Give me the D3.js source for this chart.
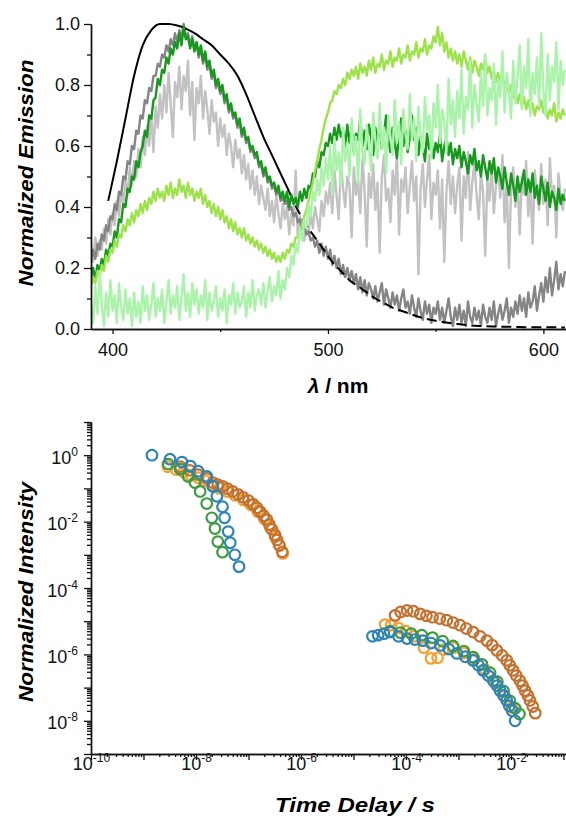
<!DOCTYPE html>
<html>
<head>
<meta charset="utf-8">
<script src="https://cdn.jsdelivr.net/npm/d3@7"></script>
<style>
  body { margin: 0; background: #fff; }
  svg { display: block; font-family: "Liberation Sans", Arial, sans-serif; }
</style>
</head>
<body>
<svg id="chart"></svg>
<script>
const totalWidth = 566;
const totalHeight = 818;

// ---------- top panel data: normalized emission, read every 1 nm (390..610)
const wavelength = d3.range(390, 611, 1);
const lightGray = [
  .27,.22,.30,.24,.29,.26,.33,.28,.36,.31, .38,.34,.42,.37,.45,.41,.49,.44,.53,.47,
  .55,.50,.59,.53,.63,.57,.66,.60,.70,.58, .73,.66,.77,.69,.80,.71,.84,.74,.63,.81,
  .76,.86,.72,.83,.78,.88,.70,.81,.62,.79, .74,.83,.69,.78,.72,.64,.75,.68,.71,.60,
  .69,.63,.67,.57,.64,.60,.53,.62,.56,.59, .51,.57,.49,.54,.46,.52,.44,.50,.41,.47,
  .43,.39,.46,.37,.42,.35,.44,.38,.33,.41, .36,.40,.31,.38,.34,.52,.30,.37,.33,.29,
  .35,.31,.38,.33,.40,.36,.32,.42,.37,.45, .41,.48,.38,.52,.44,.36,.55,.46,.40,.50,
  .47,.30,.53,.44,.49,.38,.56,.45,.27,.51, .43,.54,.39,.48,.25,.50,.57,.42,.46,.35,
  .52,.44,.58,.31,.49,.45,.53,.38,.47,.55, .42,.50,.18,.46,.54,.40,.49,.57,.36,.48,
  .44,.52,.33,.49,.22,.45,.55,.41,.50,.38, .47,.53,.29,.50,.43,.58,.39,.48,.55,.44,
  .36,.51,.45,.24,.49,.42,.54,.38,.47,.52, .43,.57,.35,.48,.20,.46,.53,.40,.49,.31,
  .50,.44,.55,.37,.48,.28,.52,.45,.39,.54, .41,.49,.34,.56,.43,.47,.30,.51,.44,.39,
  .46];
const darkGray = [
  .22,.26,.23,.28,.26,.31,.29,.34,.32,.37, .36,.41,.39,.45,.44,.50,.49,.55,.54,.60,
  .59,.65,.64,.70,.69,.75,.74,.79,.78,.83, .83,.87,.86,.90,.89,.93,.91,.95,.93,.97,
  .94,.98,.95,1.0,.96,.97,.93,.96,.92,.94, .89,.92,.87,.90,.85,.87,.82,.84,.79,.81,
  .77,.79,.74,.76,.71,.73,.69,.70,.66,.68, .63,.65,.61,.62,.58,.59,.56,.57,.53,.54,
  .50,.52,.48,.49,.46,.47,.44,.46,.42,.43, .41,.42,.39,.40,.37,.38,.35,.36,.33,.34,
  .31,.32,.29,.30,.27,.29,.25,.28,.24,.27, .23,.26,.21,.24,.20,.23,.18,.21,.17,.20,
  .16,.19,.15,.18,.13,.17,.12,.16,.11,.15, .13,.10,.14,.09,.12,.15,.08,.13,.10,.07,
  .12,.08,.11,.06,.10,.13,.07,.09,.05,.11, .07,.04,.10,.06,.03,.09,.05,.08,.02,.07,
  .05,.09,.03,.07,.02,.06,.10,.04,.01,.07, .03,.08,.02,.06,.01,.09,.04,.02,.07,.03,
  .06,.01,.08,.04,.02,.07,.03,.09,.01,.05, .08,.03,.06,.10,.02,.07,.04,.09,.05,.11,
  .06,.10,.04,.12,.07,.09,.14,.06,.11,.15, .09,.17,.12,.20,.11,.16,.22,.13,.18,.14,
  .19];
const darkGreen = [
  .17,.20,.16,.21,.19,.23,.21,.26,.24,.28, .27,.32,.30,.36,.35,.41,.40,.46,.45,.50,
  .49,.55,.53,.58,.60,.65,.63,.70,.69,.75, .76,.82,.80,.85,.84,.89,.87,.92,.90,.94,
  .92,.97,.93,.99,.95,.96,.92,.95,.91,.94, .90,.93,.88,.91,.86,.88,.83,.85,.80,.82,
  .78,.80,.75,.77,.72,.74,.70,.71,.67,.69, .64,.66,.62,.63,.59,.60,.57,.58,.54,.55,
  .51,.53,.49,.50,.47,.48,.45,.47,.43,.45, .42,.45,.40,.44,.41,.43,.40,.45,.42,.46,
  .43,.47,.46,.51,.50,.55,.53,.58,.57,.61, .60,.64,.61,.66,.62,.67,.63,.65,.60,.67,
  .61,.66,.58,.64,.62,.69,.60,.65,.59,.67, .63,.57,.66,.61,.68,.59,.64,.70,.62,.58,
  .66,.61,.56,.64,.69,.60,.65,.58,.63,.70, .62,.66,.57,.63,.60,.55,.64,.59,.62,.56,
  .61,.58,.64,.55,.60,.63,.57,.61,.54,.59, .56,.60,.53,.58,.55,.51,.57,.54,.59,.52,
  .55,.50,.57,.53,.49,.55,.51,.56,.48,.53, .50,.46,.53,.48,.44,.51,.47,.42,.50,.45,
  .48,.52,.44,.49,.45,.51,.43,.47,.41,.50, .46,.42,.48,.40,.45,.43,.39,.46,.41,.44,
  .42];
const limeGreen = [
  .14,.17,.15,.19,.17,.21,.19,.24,.22,.26, .25,.29,.27,.31,.30,.34,.32,.36,.34,.38,
  .35,.39,.37,.41,.38,.42,.39,.43,.41,.45, .42,.46,.43,.45,.42,.47,.44,.48,.43,.46,
  .44,.49,.45,.47,.43,.48,.44,.46,.42,.45, .43,.46,.41,.44,.40,.42,.38,.41,.37,.40,
  .36,.39,.35,.37,.33,.36,.32,.35,.31,.33, .30,.33,.29,.31,.28,.30,.27,.29,.26,.28,
  .25,.27,.24,.26,.23,.25,.22,.24,.22,.25, .23,.26,.25,.28,.27,.30,.30,.33,.34,.37,
  .39,.42,.45,.48,.52,.55,.59,.62,.66,.69, .71,.74,.75,.78,.77,.80,.79,.82,.80,.84,
  .82,.85,.83,.86,.82,.87,.84,.86,.83,.88, .85,.89,.84,.87,.86,.90,.85,.88,.87,.91,
  .86,.89,.88,.92,.87,.90,.89,.93,.88,.91, .90,.94,.89,.92,.91,.95,.90,.93,.92,.96,
  .94,.99,.93,.97,.91,.94,.89,.92,.88,.91, .87,.90,.86,.91,.88,.85,.89,.84,.88,.86,
  .83,.87,.85,.89,.84,.86,.82,.85,.81,.84, .80,.83,.79,.82,.77,.80,.76,.79,.74,.77,
  .73,.76,.72,.75,.71,.74,.70,.73,.72,.75, .71,.73,.69,.72,.70,.74,.68,.71,.69,.72,
  .70];
const paleGreen = [
  .09,.02,.14,.05,.19,.08,.01,.12,.04,.16, .06,.11,.02,.15,.07,.03,.13,.05,.10,.01,
  .12,.04,.09,.02,.14,.06,.11,.03,.08,.15, .04,.10,.06,.13,.02,.09,.16,.05,.11,.07,
  .14,.03,.10,.18,.06,.12,.04,.15,.08,.13, .05,.11,.07,.16,.03,.12,.06,.09,.14,.04,
  .10,.06,.13,.02,.11,.08,.15,.05,.12,.07, .09,.14,.04,.12,.07,.16,.06,.11,.13,.08,
  .15,.07,.12,.17,.09,.14,.11,.19,.10,.16, .13,.20,.17,.24,.21,.28,.25,.33,.29,.36,
  .33,.41,.37,.45,.42,.49,.44,.53,.47,.56, .49,.60,.44,.63,.52,.58,.47,.66,.55,.61,
  .50,.69,.57,.63,.48,.72,.58,.54,.67,.60, .52,.71,.62,.56,.74,.59,.66,.51,.70,.63,
  .57,.75,.61,.68,.54,.72,.64,.59,.77,.62, .69,.55,.73,.63,.58,.76,.65,.70,.56,.74,
  .66,.80,.61,.72,.68,.58,.82,.67,.75,.63, .78,.69,.85,.64,.76,.72,.88,.66,.80,.74,
  .68,.84,.73,.90,.70,.79,.75,.87,.67,.82, .76,.91,.71,.84,.78,.69,.88,.74,.83,.93,
  .72,.86,.79,.95,.70,.84,.77,.89,.73,.97, .78,.70,.90,.75,.86,.81,.94,.72,.88,.80,
  .85];
// smooth reference band (black)
const blackNm = [398,402,406,410,414,418,422,426,430,434,438,442,446,450,454,458,462,466,470,474,478,482,
  486,490,494,498,502,506,510,514,518,522,526,530,534,538,542,546,550,554,558,562,566,570,578,586,594,602,610];
const blackVal = [0.42,0.55,0.69,0.83,0.93,0.98,1.0,1.0,0.995,0.985,0.97,0.95,0.93,0.90,0.87,0.83,0.77,0.70,0.63,0.57,0.51,0.45,
  0.39,0.34,0.30,0.26,0.22,0.19,0.16,0.14,0.12,0.10,0.085,0.07,0.06,0.05,0.04,0.033,0.027,0.022,0.018,0.015,0.012,0.010,0.008,0.007,0.006,0.006,0.005];
const blackDashFrom = 482;

// ---------- bottom panel data: decay traces (time / s, normalized intensity)
const orangeT = [2.9e-9,4.2e-9,5.8e-9,8.0e-9,1.1e-8,1.5e-8,2.0e-8,2.8e-8,4.0e-8,5.5e-8,8.0e-8,1.1e-7,1.5e-7,2.0e-7,2.6e-7,3.2e-7,3.8e-7,4.5e-7,
  4.0e-5,5.2e-5,7.1e-5,1.0e-4,1.4e-4,2.2e-4,3.0e-4,4.0e-4,5.2e-4,7.9e-4,1.26e-3,2.0e-3,3.2e-3,5.0e-3,7.6e-3,1.05e-2];
const orangeI = [0.45,0.37,0.31,0.25,0.21,0.17,0.13,0.10,0.08,0.062,0.045,0.032,0.02,0.012,6.5e-3,3.5e-3,2.0e-3,1.1e-3,
  7.9e-6,7.6e-6,6.3e-6,5.0e-6,3.5e-6,1.6e-6,7.6e-7,7.9e-7,1.4e-6,1.6e-6,1.1e-6,7.1e-7,3.5e-7,1.4e-7,5.6e-8,2.5e-8];
const brownT = [5.0e-9,7.6e-9,1.1e-8,1.6e-8,2.1e-8,2.6e-8,3.2e-8,4.0e-8,5.0e-8,6.3e-8,7.9e-8,1.0e-7,1.23e-7,1.45e-7,1.66e-7,1.95e-7,2.24e-7,2.5e-7,2.8e-7,3.2e-7,3.5e-7,3.9e-7,4.4e-7,
  6.2e-5,7.9e-5,1.05e-4,1.38e-4,1.86e-4,2.45e-4,3.2e-4,4.4e-4,6.0e-4,7.9e-4,1.07e-3,1.41e-3,1.9e-3,2.57e-3,3.47e-3,4.37e-3,5.4e-3,6.8e-3,8.3e-3,9.5e-3,1.1e-2,1.26e-2,1.48e-2,1.66e-2,1.86e-2,2.1e-2,2.3e-2,2.6e-2,2.9e-2];
const brownI = [0.45,0.35,0.26,0.20,0.15,0.13,0.115,0.098,0.081,0.066,0.054,0.043,0.033,0.026,0.020,0.015,0.0115,8.1e-3,5.8e-3,4.0e-3,2.8e-3,1.9e-3,1.23e-3,
  1.5e-5,1.9e-5,2.1e-5,2.0e-5,1.66e-5,1.45e-5,1.32e-5,1.2e-5,1.07e-5,9.1e-6,7.6e-6,6.0e-6,4.7e-6,3.5e-6,2.6e-6,1.9e-6,1.32e-6,9.3e-7,6.6e-7,4.7e-7,3.3e-7,2.3e-7,1.6e-7,1.15e-7,8.1e-8,5.8e-8,4.1e-8,2.7e-8,1.7e-8];
const greenT = [2.95e-9,5.0e-9,7.1e-9,9.5e-9,1.2e-8,1.6e-8,2.0e-8,2.3e-8,2.6e-8,3.2e-8,
  5.0e-5,7.9e-5,1.26e-4,2.0e-4,3.2e-4,5.0e-4,7.9e-4,1.26e-3,1.9e-3,2.8e-3,4.0e-3,5.5e-3,7.2e-3,9.5e-3,1.2e-2,1.45e-2];
const greenI = [0.54,0.38,0.23,0.15,0.081,0.035,0.013,6.2e-3,2.5e-3,1.2e-3,
  5.0e-6,4.5e-6,4.2e-6,3.8e-6,3.2e-6,2.5e-6,1.8e-6,1.26e-6,8.3e-7,5.0e-7,2.8e-7,1.5e-7,7.9e-8,4.0e-8,2.4e-8,1.6e-8];
const blueT = [1.45e-9,3.2e-9,5.4e-9,7.8e-9,1.1e-8,1.6e-8,2.1e-8,2.5e-8,3.2e-8,3.5e-8,4.1e-8,4.5e-8,5.5e-8,6.6e-8,
  2.3e-5,2.95e-5,3.8e-5,5.0e-5,7.2e-5,1.05e-4,1.48e-4,2.1e-4,3.0e-4,4.5e-4,6.5e-4,9.3e-4,1.35e-3,1.9e-3,2.4e-3,2.95e-3,3.7e-3,4.6e-3,5.4e-3,6.2e-3,7.2e-3,8.3e-3,9.3e-3,1.05e-2,1.2e-2];
const blueI = [1.0,0.76,0.62,0.47,0.33,0.23,0.115,0.058,0.028,0.013,5.0e-3,2.3e-3,1.0e-3,4.4e-4,
  3.5e-6,3.8e-6,4.2e-6,4.7e-6,3.5e-6,3.0e-6,2.8e-6,2.6e-6,2.2e-6,1.86e-6,1.45e-6,1.07e-6,8.5e-7,6.6e-7,4.7e-7,3.3e-7,2.3e-7,1.6e-7,1.15e-7,8.1e-8,5.8e-8,4.1e-8,2.8e-8,2.0e-8,1.0e-8];

const svg = d3.select("#chart")
  .attr("width", totalWidth)
  .attr("height", totalHeight);

function styleAxis(g, size) {
  g.attr("font-family", "Liberation Sans, Arial, sans-serif").attr("font-size", size);
  g.select(".domain").attr("stroke", "#111").attr("stroke-width", 1.4);
  g.selectAll(".tick line").attr("stroke", "#111").attr("stroke-width", 1.3);
  g.selectAll(".tick text").attr("fill", "#111");
}

// ================= top panel =================
const xTop = d3.scaleLinear().domain([390, 610.5]).range([91, 566]);
const yTop = d3.scaleLinear().domain([0, 1]).range([329, 24]);

svg.append("clipPath").attr("id", "clip-top")
  .append("rect").attr("x", 91).attr("y", 0).attr("width", 475).attr("height", 330);

const spectra = svg.append("g").attr("clip-path", "url(#clip-top)");
const specLine = d3.line().x((d, i) => xTop(wavelength[i])).y(d => yTop(d));

[[lightGray, "#c2c2c2"], [darkGray, "#858585"]].forEach(([vals, col]) => {
  spectra.append("path").attr("d", specLine(vals))
    .attr("fill", "none").attr("stroke", col).attr("stroke-width", 2.4).attr("stroke-linejoin", "round");
});

// black band: solid then dashed
const blackPts = blackNm.map((nm, i) => [nm, blackVal[i]]);
const blackLine = d3.line().x(d => xTop(d[0])).y(d => yTop(d[1])).curve(d3.curveMonotoneX);
spectra.append("path").attr("d", blackLine(blackPts.filter(p => p[0] <= blackDashFrom)))
  .attr("fill", "none").attr("stroke", "#000").attr("stroke-width", 2);
spectra.append("path").attr("d", blackLine(blackPts.filter(p => p[0] >= blackDashFrom)))
  .attr("fill", "none").attr("stroke", "#000").attr("stroke-width", 2).attr("stroke-dasharray", "10,5");

[[darkGreen, "#16991c"], [limeGreen, "#9de24a"], [paleGreen, "#abf2aa"]].forEach(([vals, col]) => {
  spectra.append("path").attr("d", specLine(vals))
    .attr("fill", "none").attr("stroke", col).attr("stroke-width", 2.4).attr("stroke-linejoin", "round");
});

// axes
svg.append("g").attr("transform", "translate(91,0)")
  .call(d3.axisLeft(yTop).tickValues([0.1, 0.3, 0.5, 0.7, 0.9]).tickSize(4).tickSizeOuter(0).tickFormat(""))
  .call(g => styleAxis(g, 18));
svg.append("g").attr("transform", "translate(91,0)")
  .call(d3.axisLeft(yTop).tickValues([0, 0.2, 0.4, 0.6, 0.8, 1.0]).tickSize(7).tickPadding(4)
    .tickSizeOuter(0).tickFormat(d3.format(".1f")))
  .call(g => styleAxis(g, 18));
svg.append("g").attr("transform", "translate(0,329)")
  .call(d3.axisBottom(xTop).tickValues([450, 550]).tickSize(3).tickSizeOuter(0).tickFormat(""))
  .call(g => styleAxis(g, 18));
svg.append("g").attr("transform", "translate(0,329)")
  .call(d3.axisBottom(xTop).tickValues([400, 500, 600]).tickSize(5).tickPadding(9).tickSizeOuter(0))
  .call(g => styleAxis(g, 18));

svg.append("text")
  .attr("transform", "translate(33,173) rotate(-90)")
  .attr("text-anchor", "middle")
  .attr("font-size", 21).attr("font-weight", "bold").attr("font-style", "italic")
  .attr("textLength", 227).attr("lengthAdjust", "spacingAndGlyphs")
  .text("Normalized Emission");

const lambdaTitle = svg.append("text")
  .attr("x", 338).attr("y", 393)
  .attr("text-anchor", "middle")
  .attr("font-size", 21).attr("font-weight", "bold");
lambdaTitle.append("tspan").attr("font-style", "italic").text("λ");
lambdaTitle.append("tspan").text(" / nm");

// ================= bottom panel =================
const xBot = d3.scaleLog().domain([1e-10, 0.1117]).range([91, 566]);
const yBot = d3.scaleLog().domain([1e-9, 10]).range([754, 422]);

const decades = d3.range(-10, 2);
const minorTicks = decades.flatMap(e => d3.range(2, 10).map(m => m * Math.pow(10, e)));

function powerLabels(g, shown) {
  g.selectAll(".tick text").each(function(d) {
    const e = Math.round(Math.log10(d));
    const t = d3.select(this);
    t.text("");
    if (!shown.includes(e)) return;
    t.text("10");
    t.append("tspan").attr("dy", -8).attr("font-size", 12).text(e);
  });
}

svg.append("g").attr("transform", "translate(91,0)")
  .call(d3.axisLeft(yBot).tickValues(minorTicks.filter(v => v > 1e-9 && v < 10)).tickSize(4).tickSizeOuter(0).tickFormat(""))
  .call(g => styleAxis(g, 18));
svg.append("g").attr("transform", "translate(91,0)")
  .call(d3.axisLeft(yBot).tickValues(d3.range(-9, 2).map(e => Math.pow(10, e))).tickSize(7).tickPadding(6).tickSizeOuter(0))
  .call(g => styleAxis(g, 18))
  .call(g => g.selectAll(".tick text").attr("dy", "0.45em"))
  .call(g => powerLabels(g, [0, -2, -4, -6, -8]));

svg.append("g").attr("transform", "translate(0,754)")
  .call(d3.axisBottom(xBot).tickValues(minorTicks.filter(v => v > 1e-10 && v < 0.1117)).tickSize(3).tickSizeOuter(0).tickFormat(""))
  .call(g => styleAxis(g, 18));
svg.append("g").attr("transform", "translate(0,754)")
  .call(d3.axisBottom(xBot).tickValues(d3.range(-10, 0).map(e => Math.pow(10, e))).tickSize(6).tickSizeOuter(0))
  .call(g => styleAxis(g, 18))
  .call(g => g.selectAll(".tick text").attr("y", 16).attr("dy", null))
  .call(g => powerLabels(g, [-10, -8, -6, -4, -2]));

// decay markers: open circles
const decays = [
  { t: orangeT, v: orangeI, color: "#f3a033" },
  { t: brownT, v: brownI, color: "#c2712f" },
  { t: greenT, v: greenI, color: "#3c9c3f" },
  { t: blueT, v: blueI, color: "#2f84b5" }
];
decays.forEach(s => {
  svg.append("g").selectAll("circle")
    .data(s.t)
    .enter()
    .append("circle")
    .attr("cx", d => xBot(d))
    .attr("cy", (d, i) => yBot(s.v[i]))
    .attr("r", 5.3)
    .attr("fill", "none")
    .attr("stroke", s.color)
    .attr("stroke-width", 2.2);
});

svg.append("text")
  .attr("transform", "translate(33,592) rotate(-90)")
  .attr("text-anchor", "middle")
  .attr("font-size", 21).attr("font-weight", "bold").attr("font-style", "italic")
  .attr("textLength", 220).attr("lengthAdjust", "spacingAndGlyphs")
  .text("Normalized Intensity");

svg.append("text")
  .attr("x", 355).attr("y", 812)
  .attr("text-anchor", "middle")
  .attr("font-size", 20).attr("font-weight", "bold").attr("font-style", "italic")
  .attr("textLength", 160).attr("lengthAdjust", "spacingAndGlyphs")
  .text("Time Delay / s");
</script>
</body>
</html>
